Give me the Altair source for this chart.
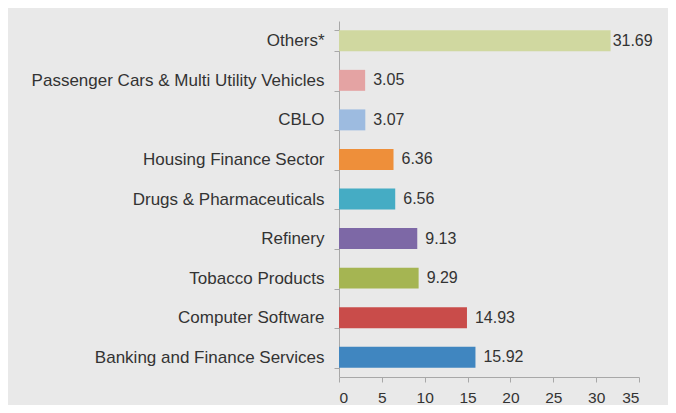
import altair as alt
import pandas as pd

categories = [
    "Others*",
    "Passenger Cars & Multi Utility Vehicles",
    "CBLO",
    "Housing Finance Sector",
    "Drugs & Pharmaceuticals",
    "Refinery",
    "Tobacco Products",
    "Computer Software",
    "Banking and Finance Services",
]
values = [31.69, 3.05, 3.07, 6.36, 6.56, 9.13, 9.29, 14.93, 15.92]
colors = ["#d0d8a0", "#e4a3a3", "#9dbbe0", "#ee8f3a", "#45acc4",
          "#7d68a6", "#a5b552", "#c94c4a", "#4086c0"]
x_ticks = [0, 5, 10, 15, 20, 25, 30, 35]

df = pd.DataFrame({"category": categories, "value": values})
df["label"] = df["value"].map(lambda v: f"{v:.2f}")

FONT = "Liberation Sans, Arial, sans-serif"

y_enc = alt.Y(
    "category:N",
    sort=categories,
    title=None,
    scale=alt.Scale(paddingInner=0.47, paddingOuter=0.235),
    axis=alt.Axis(
        tickBand="extent",
        tickSize=5,
        labelPadding=10,
        labelFontSize=17,
        labelFont=FONT,
        labelColor="#333333",
        labelLimit=400,
        domainColor="#a8a8a8",
        tickColor="#a8a8a8",
    ),
)
x_enc = alt.X(
    "value:Q",
    title=None,
    scale=alt.Scale(domain=[0, 35], nice=False),
    axis=alt.Axis(
        values=x_ticks,
        grid=False,
        tickSize=5,
        labelPadding=8,
        labelFontSize=15.5,
        labelFont=FONT,
        labelColor="#333333",
        domainColor="#a8a8a8",
        tickColor="#a8a8a8",
    ),
)

base = alt.Chart(df)

bars = base.mark_bar().encode(
    x=x_enc,
    y=y_enc,
    color=alt.Color("category:N", scale=alt.Scale(domain=categories, range=colors), legend=None),
)

text_main = base.transform_filter(alt.datum.category != "Others*").mark_text(
    align="left", baseline="middle", dx=8, fontSize=16, font=FONT, color="#333333"
).encode(x="value:Q", y=alt.Y("category:N", sort=categories), text="label:N")

text_others = base.transform_filter(alt.datum.category == "Others*").mark_text(
    align="left", baseline="middle", dx=2, fontSize=16, font=FONT, color="#333333"
).encode(x="value:Q", y=alt.Y("category:N", sort=categories), text="label:N")

chart = (
    alt.layer(bars, text_main, text_others)
    .properties(
        width=300,
        height=356,
        autosize=alt.AutoSizeParams(type="none"),
        padding={"left": 331, "top": 13, "right": 29, "bottom": 28},
        background="#e9e9e9",
    )
    .configure_view(stroke=None)
)

chart.save("out.html", embed_options={"renderer": "svg", "actions": False})
